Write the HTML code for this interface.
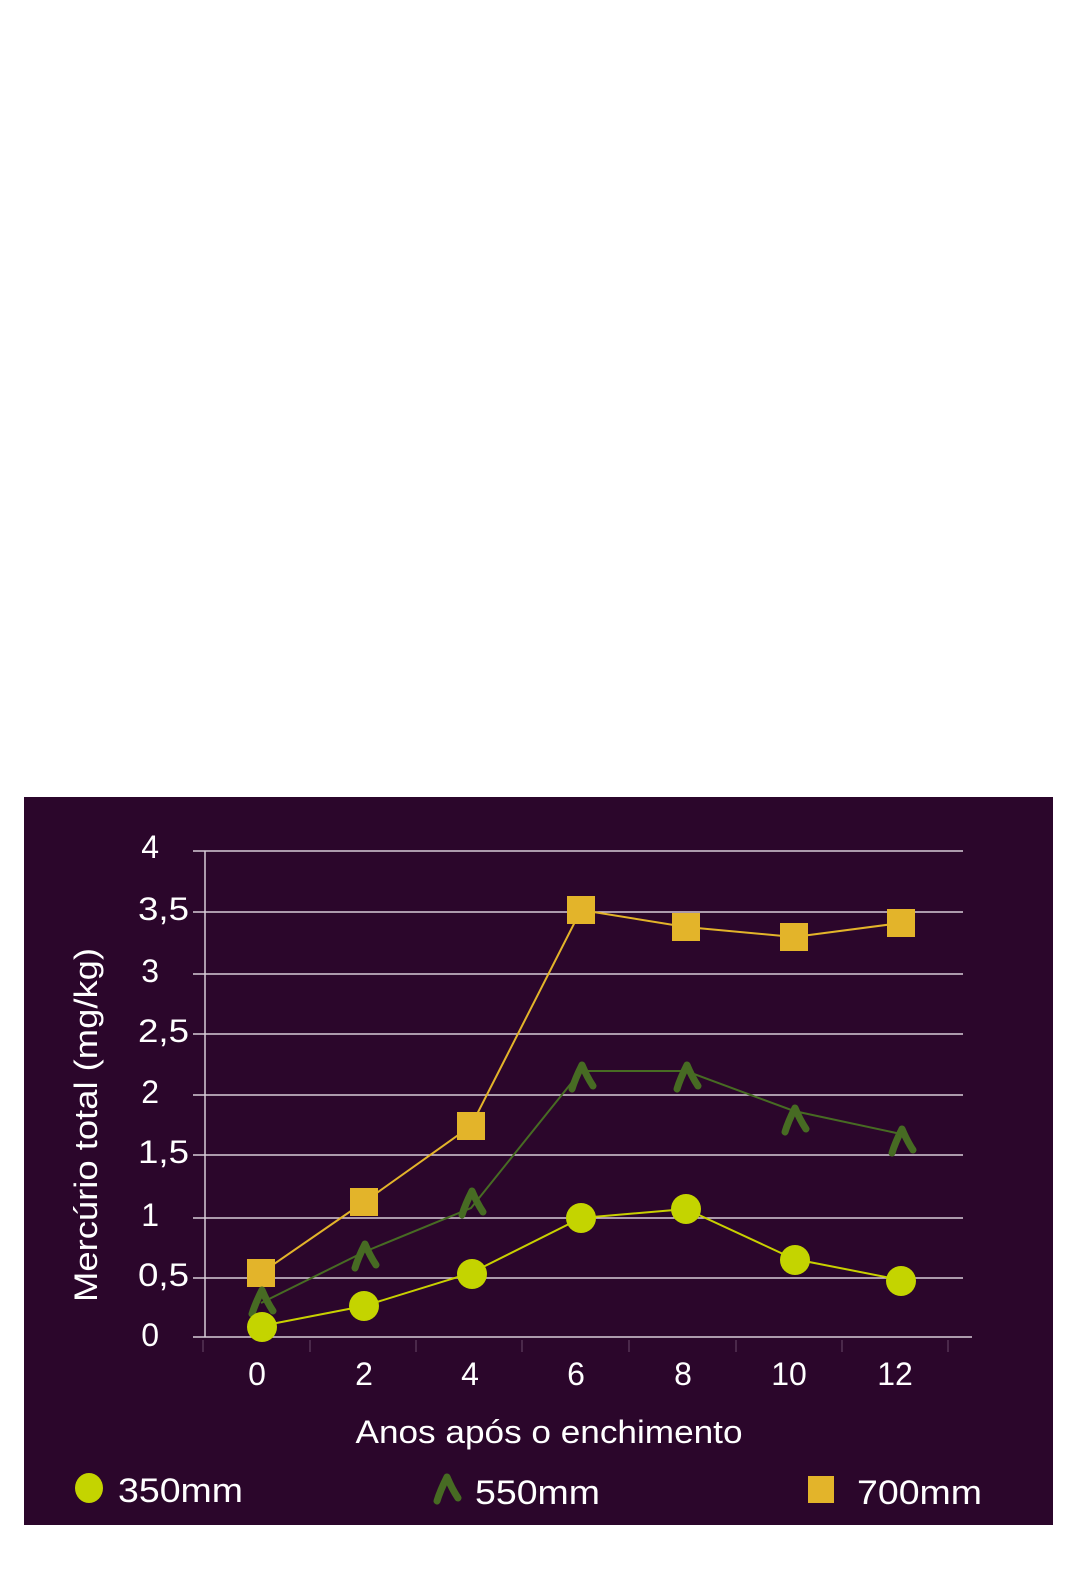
<!DOCTYPE html>
<html><head><meta charset="utf-8"><style>
html,body{margin:0;padding:0;background:#fff;}
svg{display:block;}
text{font-family:"Liberation Sans",sans-serif;fill:#fff;}
</style></head><body>
<svg width="1076" height="1569" viewBox="0 0 1076 1569" xmlns="http://www.w3.org/2000/svg">
<rect x="0" y="0" width="1076" height="1569" fill="#fff"/>
<rect x="24" y="797" width="1029" height="728" fill="#2b062b"/>
<g stroke="#d8ccd8" stroke-width="1.5">
<line x1="193" y1="851" x2="963" y2="851"/>
<line x1="193" y1="912" x2="963" y2="912"/>
<line x1="193" y1="974" x2="963" y2="974"/>
<line x1="193" y1="1034" x2="963" y2="1034"/>
<line x1="193" y1="1095" x2="963" y2="1095"/>
<line x1="193" y1="1155" x2="963" y2="1155"/>
<line x1="193" y1="1218" x2="963" y2="1218"/>
<line x1="193" y1="1278" x2="963" y2="1278"/>
<line x1="193" y1="1337" x2="972" y2="1337"/>
<line x1="205" y1="851" x2="205" y2="1337"/>
</g>
<g stroke="#6a4a6a" stroke-width="1">
<line x1="203" y1="1340" x2="203" y2="1352"/><line x1="310" y1="1340" x2="310" y2="1352"/>
<line x1="416" y1="1340" x2="416" y2="1352"/><line x1="522" y1="1340" x2="522" y2="1352"/>
<line x1="629" y1="1340" x2="629" y2="1352"/><line x1="736" y1="1340" x2="736" y2="1352"/>
<line x1="842" y1="1340" x2="842" y2="1352"/><line x1="948" y1="1340" x2="948" y2="1352"/>
</g>
<g font-size="32" text-anchor="end">
<text x="159" y="858">4</text><text x="189" y="920" textLength="51" lengthAdjust="spacingAndGlyphs">3,5</text><text x="159" y="982">3</text>
<text x="189" y="1042" textLength="51" lengthAdjust="spacingAndGlyphs">2,5</text><text x="159" y="1103">2</text><text x="189" y="1163" textLength="51" lengthAdjust="spacingAndGlyphs">1,5</text>
<text x="159" y="1226">1</text><text x="189" y="1286" textLength="51" lengthAdjust="spacingAndGlyphs">0,5</text><text x="159" y="1346">0</text>
</g>
<g font-size="32" text-anchor="middle">
<text x="257" y="1385">0</text><text x="364" y="1385">2</text><text x="470" y="1385">4</text>
<text x="576" y="1385">6</text><text x="683" y="1385">8</text><text x="789" y="1385">10</text><text x="895" y="1385">12</text>
<text x="549" y="1443" textLength="387" lengthAdjust="spacingAndGlyphs">Anos após o enchimento</text>
<text transform="translate(97,1125) rotate(-90)" textLength="354" lengthAdjust="spacingAndGlyphs">Mercúrio total (mg/kg)</text>
</g>
<polyline fill="none" stroke="#e3b42a" stroke-width="2" points="261,1273 364,1202 471,1126 581,910 686,927 794,937 901,923"/>
<polyline fill="none" stroke="#476b23" stroke-width="2" points="261,1303 364,1252 471,1208 581,1071 686,1071 794,1111 901,1134"/>
<polyline fill="none" stroke="#c8d000" stroke-width="2" points="261,1326 364,1306 471,1273 581,1218 686,1209 794,1259 901,1280"/>
<g fill="#e3b42a">
<rect x="247" y="1259" width="28" height="28"/><rect x="350" y="1188" width="28" height="28"/>
<rect x="457" y="1112" width="28" height="28"/><rect x="567" y="896" width="28" height="28"/>
<rect x="672" y="913" width="28" height="28"/><rect x="780" y="923" width="28" height="28"/>
<rect x="887" y="909" width="28" height="28"/>
</g>
<defs><path id="m" d="M-10,12 Q-7,2 0,-12 Q5,0 11,9" fill="none" stroke="#476b23" stroke-width="7" stroke-linecap="round" stroke-linejoin="round"/></defs>
<use href="#m" x="262" y="1302"/><use href="#m" x="365" y="1256"/><use href="#m" x="472" y="1203"/>
<use href="#m" x="582" y="1077"/><use href="#m" x="687" y="1077"/><use href="#m" x="795" y="1120"/><use href="#m" x="902" y="1141"/>
<g fill="#c4d400">
<circle cx="262" cy="1327" r="15"/><circle cx="364" cy="1306" r="15"/><circle cx="472" cy="1274" r="15"/>
<circle cx="581" cy="1218" r="15"/><circle cx="686" cy="1209" r="15"/><circle cx="795" cy="1260" r="15"/><circle cx="901" cy="1281" r="15"/>
</g>
<ellipse cx="89" cy="1488" rx="14" ry="15" fill="#c4d400"/>
<text x="118" y="1502" font-size="34" textLength="125" lengthAdjust="spacingAndGlyphs">350mm</text>
<use href="#m" x="447" y="1489"/>
<text x="475" y="1504" font-size="34" textLength="125" lengthAdjust="spacingAndGlyphs">550mm</text>
<rect x="808" y="1476" width="26" height="27" fill="#e3b42a"/>
<text x="857" y="1504" font-size="34" textLength="125" lengthAdjust="spacingAndGlyphs">700mm</text>
</svg>
</body></html>
